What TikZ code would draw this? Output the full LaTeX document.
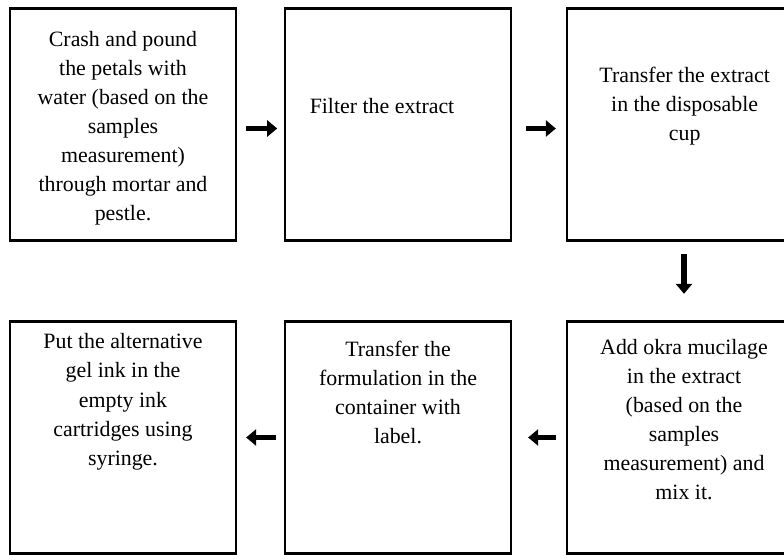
\documentclass[tikz,border=0pt]{standalone}
\usepackage{fontspec}
\setmainfont{Liberation Serif}
\usetikzlibrary{positioning,arrows.meta}

\begin{document}
\begin{tikzpicture}[x=0.75pt,y=-0.75pt,
    stepbox/.style={draw,line width=1.7pt,minimum width=169.5pt,minimum height=174pt,inner sep=0pt},
    steptext/.style={align=center,inner sep=0pt,outer sep=0pt,font=\fontsize{16.4}{21.8}\selectfont},
    flow/.style={line width=4.2pt,-{Triangle[width=12pt,length=7.5pt]}}]
        \useasboundingbox (0,0) rectangle (784,555);
        \clip (0,0) rectangle (784,555);
        % top row of boxes
        \node [stepbox] (S1) at (123,124.5) {};
        \node [stepbox] (S2) at (398,124.5) {};
        \node [stepbox] (S3) at (680,124.5) {};
        % bottom row of boxes
        \node [stepbox] (S4) at (123,437.5) {};
        \node [stepbox] (S5) at (398,437.5) {};
        \node [stepbox] (S6) at (680,437.5) {};
        % texts
        \node [steptext,below=17.6pt of S1.north] (T1)
            {Crash and pound\\the petals with\\water (based on the\\samples\\measurement)\\through mortar and\\pestle.};
        \node [steptext,below=68pt of S2.north,xshift=-12pt] (T2)
            {Filter the extract};
        \node [steptext,below=44.6pt of S3.north,xshift=3.5pt] (T3)
            {Transfer the extract\\in the disposable\\cup};
        \node [steptext,below=10pt of S4.north] (T4)
            {Put the alternative\\gel ink in the\\empty ink\\cartridges using\\syringe.};
        \node [steptext,below=15.4pt of S5.north] (T5)
            {Transfer the\\formulation in the\\container with\\label.};
        \node [steptext,below=13.9pt of S6.north,xshift=3pt] (T6)
            {Add okra mucilage\\in the extract\\(based on the\\samples\\measurement) and\\mix it.};
        % arrows
        \draw [flow,shorten <=6.5pt,shorten >=5pt]
            ([yshift=-3pt]S1.east) -- ([yshift=-3pt]S2.west);
        \draw [flow,shorten <=10.5pt,shorten >=7.5pt]
            ([yshift=-3pt]S2.east) -- ([yshift=-3pt]S3.west);
        \draw [flow,shorten <=9.4pt,shorten >=19.9pt]
            ([xshift=3pt]S3.south) -- ([xshift=3pt]S6.north);
        \draw [flow,shorten <=7.5pt,shorten >=12pt] (S6.west) -- (S5.east);
        \draw [flow,shorten <=6pt,shorten >=6.75pt] (S5.west) -- (S4.east);
    \end{tikzpicture}
\end{document}
